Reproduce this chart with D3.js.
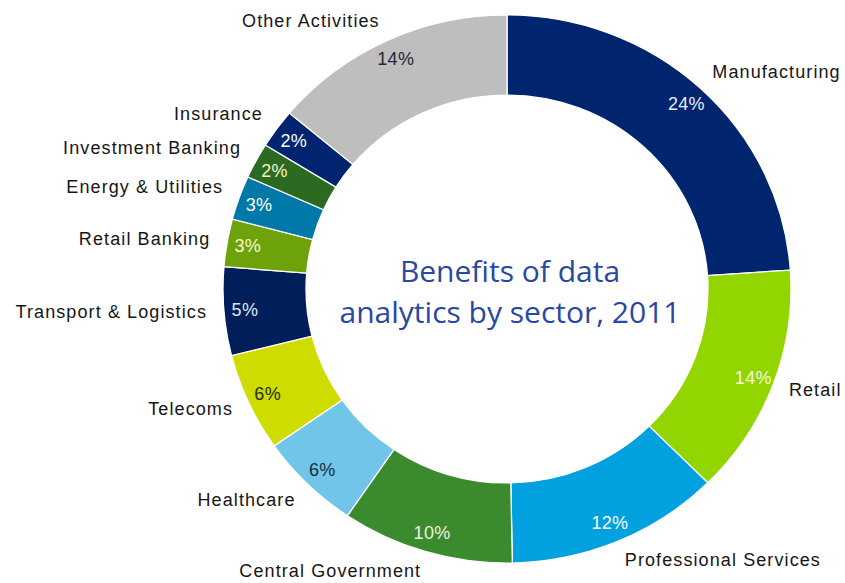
<!DOCTYPE html>
<html>
<head>
<meta charset="utf-8">
<script src="https://cdn.jsdelivr.net/npm/d3@7"></script>
<style>
  body { margin: 0; background: #fff; }
  svg { display: block; }
</style>
</head>
<body>
<svg id="donut" width="845" height="583"></svg>
<script>
// sectors, clockwise from 12 o'clock
const sectors = ["Manufacturing", "Retail", "Professional Services", "Central Government",
  "Healthcare", "Telecoms", "Transport & Logistics", "Retail Banking",
  "Energy & Utilities", "Investment Banking", "Insurance", "Other Activities"];
// share of benefits, percent
const shares = [23.9, 13.6, 12.2, 9.8, 5.8, 5.8, 5.2, 2.8, 2.6, 2.1, 2.3, 13.9];
const colours = ["#00256f", "#93d500", "#00a1de", "#3c8a2e", "#71c5e8", "#cedc00",
  "#001e5a", "#6ea20b", "#0079a9", "#2d6a21", "#002470", "#bebebe"];
const pctColours = ["#e8ecf6", "#f6f8dc", "#ffffff", "#eef2dc", "#1c2a40", "#2a2a14",
  "#dfe6f4", "#fbf6cc", "#ffffff", "#f6f2c4", "#ffffff", "#26263a"];
const titleLines = ["Benefits of data", "analytics by sector, 2011"];

const cx = 507, cy = 289;
const rOuter = 284, rInner = 201;
const squash = 0.965; // the original is slightly flattened vertically

const svg = d3.select("#donut");

const pie = d3.pie().sort(null).value(d => d.v);
const arcs = pie(sectors.map((s, i) => ({name: s, v: shares[i], i: i})));

const arc = d3.arc().innerRadius(rInner).outerRadius(rOuter);
const pctArc = d3.arc().innerRadius(263).outerRadius(263);
const nameArc = d3.arc().innerRadius(301).outerRadius(301);

const g = svg.append("g")
  .attr("transform", "translate(" + cx + "," + cy + ") scale(1," + squash + ")");

g.selectAll("path")
  .data(arcs)
  .enter().append("path")
  .attr("d", arc)
  .attr("fill", d => colours[d.data.i])
  .attr("stroke", "#fff")
  .attr("stroke-width", 1.3);

const fmt = d3.format(".0f");
const labels = svg.append("g").attr("transform", "translate(" + cx + "," + cy + ")");

// percent labels inside the ring
labels.selectAll(".pct")
  .data(arcs)
  .enter().append("text")
  .attr("class", "pct")
  .attr("x", d => pctArc.centroid(d)[0])
  .attr("y", d => pctArc.centroid(d)[1] * squash)
  .attr("dy", "0.35em")
  .attr("text-anchor", "middle")
  .style("font-family", "Arial, 'Liberation Sans', sans-serif")
  .style("font-size", "18px")
  .style("letter-spacing", "0.3px")
  .attr("fill", d => pctColours[d.data.i])
  .text(d => fmt(d.data.v) + "%");

// sector names outside the ring
labels.selectAll(".name")
  .data(arcs)
  .enter().append("text")
  .attr("class", "name")
  .attr("x", d => nameArc.centroid(d)[0])
  .attr("y", d => nameArc.centroid(d)[1] * squash)
  .attr("dy", d => {
    const y = nameArc.centroid(d)[1];
    return y < -100 ? "0.05em" : (y > 150 ? "0.55em" : "0.3em");
  })
  .attr("text-anchor", d => {
    const a = (d.startAngle + d.endAngle) / 2;
    return a < Math.PI ? "start" : "end";
  })
  .style("font-family", "Arial, 'Liberation Sans', sans-serif")
  .style("font-size", "18px")
  .style("letter-spacing", "1.1px")
  .attr("fill", "#161616")
  .text(d => d.data.name);

// title in the hole
svg.append("text")
  .attr("x", 510)
  .attr("y", 271)
  .attr("text-anchor", "middle")
  .style("font-family", "'Open Sans', Lato, sans-serif")
  .style("font-size", "30px")
  .attr("fill", "#2848a4")
  .selectAll("tspan")
  .data(titleLines)
  .enter().append("tspan")
  .attr("x", 510)
  .attr("dy", (d, i) => i === 0 ? "0.35em" : "1.37em")
  .text(d => d);
</script>
</body>
</html>
